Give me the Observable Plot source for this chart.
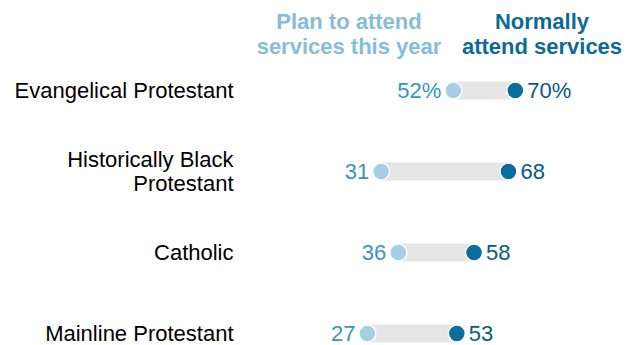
<!DOCTYPE html>
<html>
<head>
<meta charset="utf-8">
<script src="https://cdn.jsdelivr.net/npm/d3@7"></script>
<script src="https://cdn.jsdelivr.net/npm/@observablehq/plot@0.6"></script>
<style>
  body { margin: 0; background: #fff; font-family: "Liberation Sans", Arial, sans-serif; }
  #wrap { width: 631px; }
  #head { position: relative; width: 631px; height: 60px; }
  .hd { position: absolute; top: 9px; width: 220px; margin-left: -110px; text-align: center;
        font-weight: bold; font-size: 22px; line-height: 25px; }
</style>
</head>
<body>
<div id="wrap">
  <div id="head"></div>
  <div id="chart"></div>
</div>
<script>
const categories = ["Evangelical Protestant", "Historically Black\nProtestant", "Catholic", "Mainline Protestant"];
const planValues = [52, 31, 36, 27];
const normalValues = [70, 68, 58, 53];
const seriesLabels = ["Plan to attend\nservices this year", "Normally\nattend services"];

const lightDot = "#a6cfe4", darkDot = "#0b6d9e";
const lightText = "#3a93c6", darkText = "#0a5985";
const lightHead = "#86bcdc", darkHead = "#0b6a9a";

const data = categories.map((c, i) => ({cat: c, plan: planValues[i], normal: normalValues[i], i}));

// headers (legend-like) above the svg
const head = document.getElementById("head");
[[seriesLabels[0], 349, lightHead], [seriesLabels[1], 542, darkHead]].forEach(([t, cx, col]) => {
  const d = document.createElement("div");
  d.className = "hd";
  d.style.left = cx + "px";
  d.style.color = col;
  d.innerHTML = t.split("\n").join("<br>");
  head.appendChild(d);
});

const fmt = (v, i) => i === 0 ? v + "%" : String(v);

const chart = Plot.plot({
  width: 631,
  height: 285,
  marginLeft: 274,
  marginRight: 13,
  marginTop: 29,
  marginBottom: 11,
  style: {fontFamily: "'Liberation Sans', Arial, sans-serif", fontSize: "22px", background: "#fff"},
  x: {domain: [0, 100], axis: null},
  y: {type: "point", domain: categories, padding: 0, axis: null},
  marks: [
    Plot.axisY({tickSize: 0, tickPadding: 41, fontSize: 22, lineHeight: 1.1, color: "#000", label: null}),
    Plot.ruleY(data, {y: "cat", x1: "plan", x2: "normal", stroke: "#e6e6e6", strokeWidth: 18}),
    Plot.dot(data, {y: "cat", x: "plan", r: 8.5, fill: lightDot, stroke: "#fff", strokeWidth: 1.5}),
    Plot.dot(data, {y: "cat", x: "normal", r: 8.5, fill: darkDot, stroke: "#fff", strokeWidth: 1.5}),
    Plot.text(data, {y: "cat", x: "plan", text: d => fmt(d.plan, d.i), textAnchor: "end", dx: -12, fill: lightText, fontSize: 22}),
    Plot.text(data, {y: "cat", x: "normal", text: d => fmt(d.normal, d.i), textAnchor: "start", dx: 12, fill: darkText, fontSize: 22})
  ]
});
document.getElementById("chart").appendChild(chart);
</script>
</body>
</html>
